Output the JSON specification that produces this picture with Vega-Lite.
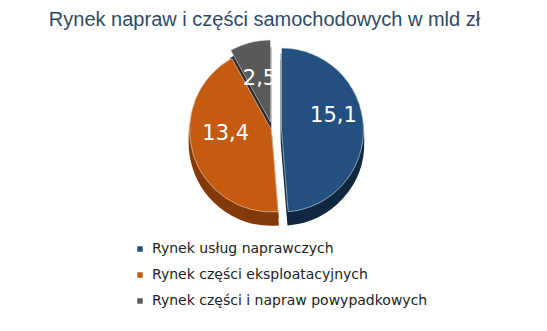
{
  "$schema": "https://vega.github.io/schema/vega-lite/v6.json",
  "width": 547,
  "height": 180,
  "autosize": "none",
  "padding": {"top": 40, "left": 0, "right": 0, "bottom": 111},
  "background": "white",
  "config": {"view": {"stroke": null}},
  "title": {"text": "Rynek napraw i części samochodowych w mld zł", "font": "Liberation Sans", "fontSize": 20, "fontWeight": "normal", "color": "#2F4A66", "offset": 9, "dx": -9, "anchor": "middle"},
  "data": {"values": [
    {"name": "Rynek usług naprawczych", "value": 15.1, "label": "15,1", "order": 1},
    {"name": "Rynek części eksploatacyjnych", "value": 13.4, "label": "13,4", "order": 2},
    {"name": "Rynek części i napraw powypadkowych", "value": 2.5, "label": "2,5", "order": 3}
  ]},
  "layer": [
    {"transform": [{"stack": "value", "groupby": [], "sort": [{"field": "order", "order": "ascending"}], "as": ["s", "e"]}, {"filter": "datum.order === 1"}],
     "mark": {"type": "arc", "outerRadius": 82, "fill": "#13304F", "stroke": "#13304F", "strokeWidth": 1.5, "xOffset": 8, "yOffset": 6},
     "encoding": {"theta": {"field": "s", "type": "quantitative", "scale": {"domain": [0, 31]}}, "theta2": {"field": "e"}}},
    {"transform": [{"stack": "value", "groupby": [], "sort": [{"field": "order", "order": "ascending"}], "as": ["s", "e"]}, {"filter": "datum.order === 1"}],
     "mark": {"type": "arc", "outerRadius": 82, "fill": "#10273F", "stroke": "#10273F", "strokeWidth": 1.5, "xOffset": 8, "yOffset": 13},
     "encoding": {"theta": {"field": "s", "type": "quantitative", "scale": {"domain": [0, 31]}}, "theta2": {"field": "e"}}},
    {"transform": [{"stack": "value", "groupby": [], "sort": [{"field": "order", "order": "ascending"}], "as": ["s", "e"]}, {"filter": "datum.order === 2"}],
     "mark": {"type": "arc", "outerRadius": 82, "fill": "#9A450C", "stroke": "#9A450C", "strokeWidth": 1.5, "xOffset": -2, "yOffset": 6},
     "encoding": {"theta": {"field": "s", "type": "quantitative", "scale": {"domain": [0, 31]}}, "theta2": {"field": "e"}}},
    {"transform": [{"stack": "value", "groupby": [], "sort": [{"field": "order", "order": "ascending"}], "as": ["s", "e"]}, {"filter": "datum.order === 2"}],
     "mark": {"type": "arc", "outerRadius": 82, "fill": "#83390A", "stroke": "#83390A", "strokeWidth": 1.5, "xOffset": -2, "yOffset": 13},
     "encoding": {"theta": {"field": "s", "type": "quantitative", "scale": {"domain": [0, 31]}}, "theta2": {"field": "e"}}},
    {"transform": [{"stack": "value", "groupby": [], "sort": [{"field": "order", "order": "ascending"}], "as": ["s", "e"]}, {"filter": "datum.order === 3"}],
     "mark": {"type": "arc", "outerRadius": 82, "fill": "#2A2A2A", "stroke": "#2A2A2A", "strokeWidth": 1.5, "xOffset": -3, "yOffset": 0},
     "encoding": {"theta": {"field": "s", "type": "quantitative", "scale": {"domain": [0, 31]}}, "theta2": {"field": "e"}}},
    {"transform": [{"stack": "value", "groupby": [], "sort": [{"field": "order", "order": "ascending"}], "as": ["s", "e"]}, {"filter": "datum.order === 1"}],
     "mark": {"type": "arc", "outerRadius": 82, "stroke": "#d8e2ec", "strokeWidth": 0.6, "xOffset": 8, "yOffset": 0},
     "encoding": {"theta": {"field": "s", "type": "quantitative", "scale": {"domain": [0, 31]}}, "theta2": {"field": "e"},
       "color": {"field": "name", "type": "nominal", "scale": {"domain": ["Rynek usług naprawczych", "Rynek części eksploatacyjnych", "Rynek części i napraw powypadkowych"], "range": ["#24507F", "#C55A11", "#595959"]},
         "legend": {"orient": "none", "legendX": 133, "legendY": 202, "title": null, "symbolType": "square", "symbolSize": 30, "symbolStrokeWidth": 0, "labelFont": "DejaVu Sans", "labelFontSize": 14, "labelColor": "#222222", "rowPadding": 12, "labelOffset": 5, "labelLimit": 400}}}},
    {"transform": [{"stack": "value", "groupby": [], "sort": [{"field": "order", "order": "ascending"}], "as": ["s", "e"]}, {"filter": "datum.order === 2"}],
     "mark": {"type": "arc", "outerRadius": 82, "stroke": "#f0d8c8", "strokeWidth": 0.6, "xOffset": -2, "yOffset": 0},
     "encoding": {"theta": {"field": "s", "type": "quantitative", "scale": {"domain": [0, 31]}}, "theta2": {"field": "e"},
       "color": {"field": "name", "type": "nominal"}}},
    {"transform": [{"stack": "value", "groupby": [], "sort": [{"field": "order", "order": "ascending"}], "as": ["s", "e"]}, {"filter": "datum.order === 3"}],
     "mark": {"type": "arc", "outerRadius": 82, "stroke": "#dddddd", "strokeWidth": 0.6, "xOffset": -3, "yOffset": -8},
     "encoding": {"theta": {"field": "s", "type": "quantitative", "scale": {"domain": [0, 31]}}, "theta2": {"field": "e"},
       "color": {"field": "name", "type": "nominal"}}},
    {"mark": {"type": "text", "radius": 52, "font": "DejaVu Sans", "fontSize": 21, "fill": "white", "xOffset": 8, "yOffset": -12},
     "encoding": {"theta": {"field": "value", "type": "quantitative", "stack": true, "scale": {"domain": [0, 31]}}, "order": {"field": "order", "type": "quantitative"},
       "text": {"condition": {"test": "datum.order === 1", "field": "label"}, "value": ""}}},
    {"mark": {"type": "text", "radius": 50, "font": "DejaVu Sans", "fontSize": 21, "fill": "white", "xOffset": 0, "yOffset": -10},
     "encoding": {"theta": {"field": "value", "type": "quantitative", "stack": true, "scale": {"domain": [0, 31]}}, "order": {"field": "order", "type": "quantitative"},
       "text": {"condition": {"test": "datum.order === 2", "field": "label"}, "value": ""}}},
    {"mark": {"type": "text", "radius": 44, "font": "DejaVu Sans", "fontSize": 21, "fill": "white", "xOffset": -3, "yOffset": -8},
     "encoding": {"theta": {"field": "value", "type": "quantitative", "stack": true, "scale": {"domain": [0, 31]}}, "order": {"field": "order", "type": "quantitative"},
       "text": {"condition": {"test": "datum.order === 3", "field": "label"}, "value": ""}}}
  ]
}
